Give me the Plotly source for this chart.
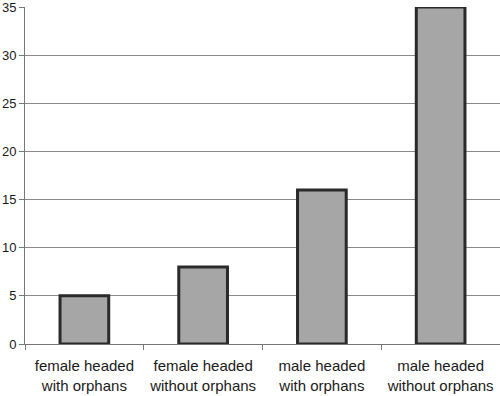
import plotly.graph_objects as go

categories = ["female headed<br>with orphans", "female headed<br>without orphans",
              "male headed<br>with orphans", "male headed<br>without orphans"]
values = [5, 8, 16, 35]
y_ticks = [0, 5, 10, 15, 20, 25, 30, 35]

fig = go.Figure(go.Bar(
    x=categories, y=values, width=0.41,
    marker=dict(color="#a6a6a6", line=dict(color="#2a2a2a", width=3)),
))
fig.update_layout(
    width=500, height=396, margin=dict(l=25, r=0, t=7, b=52),
    paper_bgcolor="white", plot_bgcolor="white", showlegend=False,
    font=dict(family="Liberation Sans, Arial, sans-serif", color="#1a1a1a"),
    bargap=0.59,
)
fig.update_yaxes(range=[0, 35], tickvals=y_ticks, showgrid=True, gridcolor="#8a8a8a", gridwidth=1,
                 showline=True, linecolor="#777777", linewidth=1, ticks="outside", ticklen=5,
                 tickcolor="#777777", tickfont=dict(size=13), zeroline=False,
                 automargin=False, ticklabeloverflow="allow", ticklabelstandoff=0)
fig.update_xaxes(showline=True, linecolor="#777777", linewidth=1, ticks="outside", ticklen=5,
                 tickcolor="#777777", tickson="boundaries", tickfont=dict(size=15),
                 automargin=False, ticklabeloverflow="allow", ticklabelstandoff=8)
fig.write_html("out.html", config={"displayModeBar": False},
               post_script="document.body.style.margin='0';document.body.style.overflow='hidden';")
